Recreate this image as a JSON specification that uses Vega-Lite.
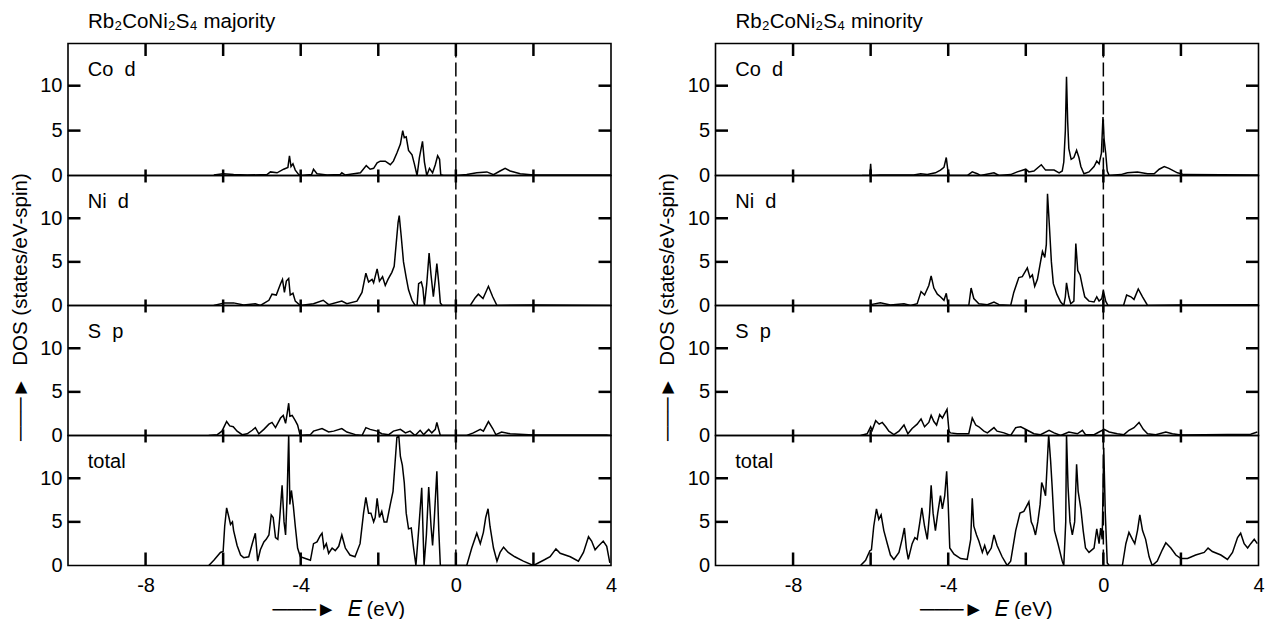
{
  "$schema": "https://vega.github.io/schema/vega-lite/v6.json",
  "padding": {"left": 9, "top": 10.5, "right": 5, "bottom": 2},
  "config": {
    "font": "Liberation Sans",
    "view": {"stroke": "black", "strokeWidth": 1.6},
    "axis": {"domain": false, "grid": false, "ticks": false, "tickSize": 0, "labelFont": "Liberation Sans", "labelFontSize": 20, "labelColor": "black", "titleFont": "Liberation Sans", "titleFontSize": 20.5, "titleFontWeight": "normal", "titleColor": "black"},
    "title": {"font": "Liberation Sans", "fontSize": 20.5, "fontWeight": "normal", "color": "black", "anchor": "start", "frame": "group", "baseline": "alphabetic", "offset": 9.5, "dx": 20}
  },
  "datasets": {
    "xt": [{"E": -8}, {"E": -6}, {"E": -4}, {"E": -2}, {"E": 0}, {"E": 2}],
    "yt": [{"DOS": 5}, {"DOS": 10}],
    "zero": [{"E": 0}],
    "majCo": [{"E":-6.24,"DOS":0.05},{"E":-6.0,"DOS":0.2},{"E":-5.73,"DOS":0.1},{"E":-5.38,"DOS":0.05},{"E":-4.87,"DOS":0.1},{"E":-4.78,"DOS":0.4},{"E":-4.61,"DOS":0.3},{"E":-4.44,"DOS":0.7},{"E":-4.33,"DOS":0.9},{"E":-4.29,"DOS":2.2},{"E":-4.25,"DOS":1.0},{"E":-4.2,"DOS":1.3},{"E":-4.14,"DOS":0.6},{"E":-4.05,"DOS":0.1},{"E":-3.97,"DOS":0.0},{"E":-3.72,"DOS":0.1},{"E":-3.67,"DOS":0.7},{"E":-3.58,"DOS":0.2},{"E":-3.32,"DOS":0.05},{"E":-2.98,"DOS":0.1},{"E":-2.94,"DOS":0.3},{"E":-2.85,"DOS":0.05},{"E":-2.46,"DOS":0.3},{"E":-2.31,"DOS":1.1},{"E":-2.21,"DOS":0.7},{"E":-2.12,"DOS":0.8},{"E":-2.03,"DOS":1.4},{"E":-1.95,"DOS":1.6},{"E":-1.82,"DOS":1.6},{"E":-1.69,"DOS":1.2},{"E":-1.61,"DOS":1.6},{"E":-1.52,"DOS":2.5},{"E":-1.43,"DOS":3.5},{"E":-1.37,"DOS":5.0},{"E":-1.33,"DOS":4.2},{"E":-1.28,"DOS":4.3},{"E":-1.22,"DOS":2.8},{"E":-1.13,"DOS":2.3},{"E":-1.07,"DOS":1.3},{"E":-1.0,"DOS":0.0},{"E":-0.94,"DOS":2.0},{"E":-0.86,"DOS":3.8},{"E":-0.81,"DOS":1.5},{"E":-0.75,"DOS":0.0},{"E":-0.68,"DOS":0.8},{"E":-0.6,"DOS":0.3},{"E":-0.53,"DOS":1.2},{"E":-0.47,"DOS":2.2},{"E":-0.42,"DOS":1.8},{"E":-0.39,"DOS":0.1},{"E":-0.32,"DOS":0.0},{"E":0.03,"DOS":0.0},{"E":0.28,"DOS":0.1},{"E":0.54,"DOS":0.3},{"E":0.8,"DOS":0.4},{"E":0.97,"DOS":0.1},{"E":1.14,"DOS":0.5},{"E":1.27,"DOS":0.8},{"E":1.4,"DOS":0.5},{"E":1.66,"DOS":0.2},{"E":2.0,"DOS":0.05},{"E":4.0,"DOS":0.05}],
    "majNi": [{"E":-6.24,"DOS":0.0},{"E":-5.97,"DOS":0.3},{"E":-5.73,"DOS":0.3},{"E":-5.47,"DOS":0.05},{"E":-5.17,"DOS":0.2},{"E":-5.04,"DOS":0.0},{"E":-4.82,"DOS":0.6},{"E":-4.74,"DOS":1.3},{"E":-4.63,"DOS":1.2},{"E":-4.52,"DOS":2.5},{"E":-4.47,"DOS":3.0},{"E":-4.42,"DOS":1.5},{"E":-4.37,"DOS":2.8},{"E":-4.31,"DOS":3.1},{"E":-4.27,"DOS":1.2},{"E":-4.2,"DOS":1.4},{"E":-4.14,"DOS":0.5},{"E":-4.01,"DOS":0.0},{"E":-3.67,"DOS":0.2},{"E":-3.42,"DOS":0.6},{"E":-3.28,"DOS":0.1},{"E":-2.94,"DOS":0.5},{"E":-2.81,"DOS":0.2},{"E":-2.55,"DOS":0.5},{"E":-2.42,"DOS":1.5},{"E":-2.32,"DOS":3.7},{"E":-2.25,"DOS":2.7},{"E":-2.16,"DOS":3.0},{"E":-2.12,"DOS":2.6},{"E":-2.03,"DOS":4.2},{"E":-1.97,"DOS":2.8},{"E":-1.89,"DOS":3.3},{"E":-1.82,"DOS":2.3},{"E":-1.75,"DOS":3.0},{"E":-1.65,"DOS":3.8},{"E":-1.59,"DOS":4.5},{"E":-1.54,"DOS":7.0},{"E":-1.49,"DOS":9.5},{"E":-1.46,"DOS":10.3},{"E":-1.41,"DOS":8.0},{"E":-1.35,"DOS":5.0},{"E":-1.28,"DOS":3.2},{"E":-1.22,"DOS":1.8},{"E":-1.13,"DOS":0.6},{"E":-1.05,"DOS":0.0},{"E":-1.0,"DOS":0.0},{"E":-0.96,"DOS":2.5},{"E":-0.89,"DOS":2.7},{"E":-0.85,"DOS":2.0},{"E":-0.81,"DOS":0.0},{"E":-0.75,"DOS":2.5},{"E":-0.69,"DOS":6.0},{"E":-0.64,"DOS":3.5},{"E":-0.58,"DOS":1.0},{"E":-0.53,"DOS":3.0},{"E":-0.49,"DOS":4.8},{"E":-0.44,"DOS":2.5},{"E":-0.4,"DOS":0.3},{"E":-0.35,"DOS":0.0},{"E":0.37,"DOS":0.0},{"E":0.5,"DOS":0.9},{"E":0.58,"DOS":1.3},{"E":0.7,"DOS":0.8},{"E":0.84,"DOS":2.2},{"E":0.95,"DOS":1.0},{"E":1.06,"DOS":0.0},{"E":2.0,"DOS":0.05},{"E":3.97,"DOS":0.0}],
    "majS": [{"E":-6.37,"DOS":0.0},{"E":-6.15,"DOS":0.1},{"E":-6.03,"DOS":0.5},{"E":-5.91,"DOS":1.6},{"E":-5.83,"DOS":1.1},{"E":-5.74,"DOS":1.0},{"E":-5.64,"DOS":0.5},{"E":-5.51,"DOS":0.1},{"E":-5.38,"DOS":0.2},{"E":-5.25,"DOS":0.6},{"E":-5.17,"DOS":0.9},{"E":-5.08,"DOS":0.2},{"E":-4.95,"DOS":0.7},{"E":-4.82,"DOS":1.3},{"E":-4.74,"DOS":1.5},{"E":-4.65,"DOS":0.9},{"E":-4.52,"DOS":2.0},{"E":-4.45,"DOS":2.3},{"E":-4.39,"DOS":1.4},{"E":-4.35,"DOS":2.5},{"E":-4.31,"DOS":3.7},{"E":-4.28,"DOS":2.2},{"E":-4.22,"DOS":2.3},{"E":-4.14,"DOS":1.7},{"E":-4.08,"DOS":1.2},{"E":-4.03,"DOS":0.3},{"E":-4.01,"DOS":0.0},{"E":-3.75,"DOS":0.1},{"E":-3.67,"DOS":0.5},{"E":-3.45,"DOS":0.8},{"E":-3.28,"DOS":0.4},{"E":-3.15,"DOS":0.5},{"E":-2.94,"DOS":0.8},{"E":-2.81,"DOS":0.4},{"E":-2.59,"DOS":0.1},{"E":-2.42,"DOS":0.0},{"E":-2.32,"DOS":0.9},{"E":-2.21,"DOS":0.7},{"E":-2.03,"DOS":0.5},{"E":-1.91,"DOS":0.2},{"E":-1.73,"DOS":0.1},{"E":-1.61,"DOS":0.5},{"E":-1.43,"DOS":0.7},{"E":-1.3,"DOS":0.3},{"E":-1.18,"DOS":0.5},{"E":-1.05,"DOS":0.0},{"E":-0.92,"DOS":0.6},{"E":-0.83,"DOS":0.1},{"E":-0.7,"DOS":0.7},{"E":-0.62,"DOS":0.3},{"E":-0.53,"DOS":0.7},{"E":-0.49,"DOS":1.5},{"E":-0.45,"DOS":0.8},{"E":-0.4,"DOS":0.0},{"E":0.28,"DOS":0.0},{"E":0.45,"DOS":0.3},{"E":0.63,"DOS":0.7},{"E":0.71,"DOS":0.5},{"E":0.84,"DOS":1.6},{"E":0.95,"DOS":0.8},{"E":1.03,"DOS":0.1},{"E":1.18,"DOS":0.4},{"E":1.4,"DOS":0.2},{"E":2.0,"DOS":0.05},{"E":3.89,"DOS":0.05},{"E":4.0,"DOS":0.0}],
    "majTot": [{"E":-6.37,"DOS":0.0},{"E":-6.24,"DOS":0.6},{"E":-6.07,"DOS":1.5},{"E":-6.0,"DOS":1.6},{"E":-5.96,"DOS":4.5},{"E":-5.91,"DOS":6.6},{"E":-5.85,"DOS":5.5},{"E":-5.81,"DOS":4.7},{"E":-5.76,"DOS":5.0},{"E":-5.73,"DOS":4.0},{"E":-5.64,"DOS":2.3},{"E":-5.55,"DOS":1.2},{"E":-5.47,"DOS":0.9},{"E":-5.34,"DOS":1.0},{"E":-5.25,"DOS":2.5},{"E":-5.17,"DOS":3.7},{"E":-5.11,"DOS":0.5},{"E":-5.04,"DOS":1.8},{"E":-4.95,"DOS":2.7},{"E":-4.89,"DOS":3.0},{"E":-4.82,"DOS":3.5},{"E":-4.76,"DOS":5.8},{"E":-4.71,"DOS":5.5},{"E":-4.65,"DOS":3.2},{"E":-4.59,"DOS":3.0},{"E":-4.54,"DOS":5.5},{"E":-4.48,"DOS":9.2},{"E":-4.43,"DOS":5.0},{"E":-4.39,"DOS":3.5},{"E":-4.35,"DOS":8.0},{"E":-4.31,"DOS":15.0},{"E":-4.28,"DOS":7.0},{"E":-4.24,"DOS":8.6},{"E":-4.19,"DOS":6.8},{"E":-4.14,"DOS":4.5},{"E":-4.08,"DOS":2.0},{"E":-4.01,"DOS":1.0},{"E":-3.88,"DOS":0.8},{"E":-3.75,"DOS":0.6},{"E":-3.67,"DOS":2.5},{"E":-3.58,"DOS":2.7},{"E":-3.5,"DOS":3.4},{"E":-3.45,"DOS":3.7},{"E":-3.4,"DOS":2.0},{"E":-3.34,"DOS":2.5},{"E":-3.28,"DOS":1.4},{"E":-3.19,"DOS":2.0},{"E":-3.11,"DOS":1.7},{"E":-3.02,"DOS":2.2},{"E":-2.94,"DOS":3.5},{"E":-2.85,"DOS":2.0},{"E":-2.73,"DOS":1.2},{"E":-2.6,"DOS":1.0},{"E":-2.47,"DOS":2.5},{"E":-2.38,"DOS":6.0},{"E":-2.32,"DOS":7.8},{"E":-2.25,"DOS":6.0},{"E":-2.19,"DOS":6.0},{"E":-2.12,"DOS":5.0},{"E":-2.08,"DOS":5.5},{"E":-2.03,"DOS":7.7},{"E":-1.97,"DOS":5.5},{"E":-1.91,"DOS":6.2},{"E":-1.85,"DOS":5.0},{"E":-1.78,"DOS":5.0},{"E":-1.69,"DOS":7.0},{"E":-1.62,"DOS":8.5},{"E":-1.58,"DOS":11.0},{"E":-1.52,"DOS":14.7},{"E":-1.47,"DOS":14.8},{"E":-1.43,"DOS":12.5},{"E":-1.38,"DOS":11.5},{"E":-1.33,"DOS":9.5},{"E":-1.28,"DOS":6.0},{"E":-1.22,"DOS":4.2},{"E":-1.15,"DOS":4.3},{"E":-1.09,"DOS":2.0},{"E":-1.03,"DOS":0.0},{"E":-0.96,"DOS":4.0},{"E":-0.88,"DOS":8.9},{"E":-0.82,"DOS":0.0},{"E":-0.76,"DOS":3.5},{"E":-0.7,"DOS":9.0},{"E":-0.64,"DOS":4.5},{"E":-0.6,"DOS":2.3},{"E":-0.56,"DOS":5.0},{"E":-0.49,"DOS":10.8},{"E":-0.44,"DOS":4.0},{"E":-0.4,"DOS":0.0},{"E":0.28,"DOS":0.0},{"E":0.41,"DOS":2.0},{"E":0.54,"DOS":3.7},{"E":0.63,"DOS":2.5},{"E":0.71,"DOS":3.8},{"E":0.77,"DOS":5.5},{"E":0.83,"DOS":6.5},{"E":0.88,"DOS":4.5},{"E":0.97,"DOS":2.0},{"E":1.06,"DOS":0.5},{"E":1.14,"DOS":1.5},{"E":1.23,"DOS":2.1},{"E":1.35,"DOS":1.5},{"E":1.52,"DOS":1.0},{"E":1.74,"DOS":0.5},{"E":2.0,"DOS":0.0},{"E":2.26,"DOS":0.6},{"E":2.43,"DOS":1.0},{"E":2.58,"DOS":1.9},{"E":2.69,"DOS":1.4},{"E":2.95,"DOS":1.0},{"E":3.16,"DOS":0.5},{"E":3.29,"DOS":1.5},{"E":3.42,"DOS":3.3},{"E":3.5,"DOS":2.8},{"E":3.59,"DOS":1.8},{"E":3.67,"DOS":2.2},{"E":3.8,"DOS":2.8},{"E":3.89,"DOS":2.2},{"E":3.97,"DOS":0.3}],
    "minCo": [{"E":-6.22,"DOS":0.0},{"E":-6.02,"DOS":0.0},{"E":-6.0,"DOS":1.3},{"E":-5.98,"DOS":0.0},{"E":-5.75,"DOS":0.05},{"E":-4.89,"DOS":0.05},{"E":-4.71,"DOS":0.2},{"E":-4.54,"DOS":0.1},{"E":-4.33,"DOS":0.3},{"E":-4.2,"DOS":0.6},{"E":-4.11,"DOS":0.9},{"E":-4.05,"DOS":2.0},{"E":-4.01,"DOS":0.6},{"E":-3.97,"DOS":0.0},{"E":-3.51,"DOS":0.0},{"E":-3.38,"DOS":0.4},{"E":-3.25,"DOS":0.2},{"E":-3.17,"DOS":0.0},{"E":-2.82,"DOS":0.3},{"E":-2.69,"DOS":0.0},{"E":-2.39,"DOS":0.1},{"E":-2.22,"DOS":0.4},{"E":-2.0,"DOS":0.7},{"E":-1.92,"DOS":0.4},{"E":-1.79,"DOS":0.5},{"E":-1.6,"DOS":1.2},{"E":-1.49,"DOS":0.6},{"E":-1.27,"DOS":0.6},{"E":-1.14,"DOS":0.3},{"E":-1.06,"DOS":0.5},{"E":-1.02,"DOS":1.5},{"E":-0.98,"DOS":5.0},{"E":-0.95,"DOS":11.0},{"E":-0.92,"DOS":6.0},{"E":-0.89,"DOS":3.0},{"E":-0.83,"DOS":1.8},{"E":-0.76,"DOS":2.0},{"E":-0.69,"DOS":2.8},{"E":-0.63,"DOS":2.0},{"E":-0.58,"DOS":1.0},{"E":-0.5,"DOS":0.2},{"E":-0.37,"DOS":0.4},{"E":-0.24,"DOS":1.0},{"E":-0.17,"DOS":1.6},{"E":-0.11,"DOS":1.3},{"E":-0.05,"DOS":2.5},{"E":-0.01,"DOS":6.5},{"E":0.02,"DOS":4.0},{"E":0.06,"DOS":2.5},{"E":0.1,"DOS":0.5},{"E":0.15,"DOS":0.0},{"E":0.45,"DOS":0.1},{"E":0.62,"DOS":0.3},{"E":0.88,"DOS":0.4},{"E":1.14,"DOS":0.2},{"E":1.31,"DOS":0.2},{"E":1.44,"DOS":0.7},{"E":1.57,"DOS":1.0},{"E":1.69,"DOS":0.8},{"E":1.91,"DOS":0.3},{"E":2.08,"DOS":0.1},{"E":4.0,"DOS":0.05}],
    "minNi": [{"E":-6.0,"DOS":0.1},{"E":-5.75,"DOS":0.3},{"E":-5.49,"DOS":0.05},{"E":-5.14,"DOS":0.2},{"E":-4.97,"DOS":0.0},{"E":-4.8,"DOS":0.2},{"E":-4.7,"DOS":1.6},{"E":-4.61,"DOS":1.2},{"E":-4.5,"DOS":2.3},{"E":-4.44,"DOS":3.4},{"E":-4.37,"DOS":2.0},{"E":-4.28,"DOS":1.3},{"E":-4.2,"DOS":1.0},{"E":-4.11,"DOS":0.6},{"E":-4.05,"DOS":1.4},{"E":-4.0,"DOS":0.0},{"E":-3.47,"DOS":0.0},{"E":-3.41,"DOS":2.0},{"E":-3.34,"DOS":0.8},{"E":-3.21,"DOS":0.2},{"E":-2.99,"DOS":0.1},{"E":-2.82,"DOS":0.4},{"E":-2.69,"DOS":0.1},{"E":-2.39,"DOS":0.0},{"E":-2.31,"DOS":1.5},{"E":-2.18,"DOS":3.2},{"E":-2.09,"DOS":3.3},{"E":-1.96,"DOS":4.3},{"E":-1.89,"DOS":3.2},{"E":-1.83,"DOS":3.5},{"E":-1.77,"DOS":2.2},{"E":-1.7,"DOS":3.0},{"E":-1.62,"DOS":5.0},{"E":-1.57,"DOS":6.2},{"E":-1.51,"DOS":5.5},{"E":-1.47,"DOS":7.0},{"E":-1.44,"DOS":12.8},{"E":-1.39,"DOS":9.0},{"E":-1.34,"DOS":5.0},{"E":-1.29,"DOS":2.5},{"E":-1.2,"DOS":1.3},{"E":-1.1,"DOS":0.4},{"E":-1.02,"DOS":0.0},{"E":-0.98,"DOS":1.0},{"E":-0.95,"DOS":2.6},{"E":-0.89,"DOS":1.0},{"E":-0.84,"DOS":0.2},{"E":-0.76,"DOS":0.5},{"E":-0.71,"DOS":7.1},{"E":-0.66,"DOS":4.0},{"E":-0.6,"DOS":3.5},{"E":-0.54,"DOS":2.2},{"E":-0.48,"DOS":1.0},{"E":-0.37,"DOS":0.5},{"E":-0.24,"DOS":0.4},{"E":-0.17,"DOS":1.0},{"E":-0.11,"DOS":0.5},{"E":-0.04,"DOS":0.8},{"E":0.0,"DOS":1.7},{"E":0.06,"DOS":0.5},{"E":0.12,"DOS":0.0},{"E":0.52,"DOS":0.0},{"E":0.6,"DOS":1.2},{"E":0.71,"DOS":1.0},{"E":0.79,"DOS":0.7},{"E":0.9,"DOS":1.9},{"E":1.01,"DOS":1.0},{"E":1.14,"DOS":0.0},{"E":2.0,"DOS":0.05},{"E":4.0,"DOS":0.1}],
    "minS": [{"E":-6.26,"DOS":0.0},{"E":-6.09,"DOS":0.2},{"E":-6.0,"DOS":1.0},{"E":-5.96,"DOS":0.6},{"E":-5.87,"DOS":1.7},{"E":-5.78,"DOS":1.3},{"E":-5.7,"DOS":1.5},{"E":-5.61,"DOS":1.0},{"E":-5.53,"DOS":0.5},{"E":-5.4,"DOS":0.1},{"E":-5.27,"DOS":0.5},{"E":-5.14,"DOS":1.2},{"E":-5.04,"DOS":0.2},{"E":-4.93,"DOS":0.8},{"E":-4.8,"DOS":1.3},{"E":-4.7,"DOS":1.9},{"E":-4.61,"DOS":1.0},{"E":-4.5,"DOS":1.5},{"E":-4.44,"DOS":2.3},{"E":-4.37,"DOS":1.6},{"E":-4.3,"DOS":1.2},{"E":-4.22,"DOS":2.4},{"E":-4.15,"DOS":2.0},{"E":-4.09,"DOS":2.5},{"E":-4.03,"DOS":3.0},{"E":-3.98,"DOS":0.5},{"E":-3.94,"DOS":0.3},{"E":-3.77,"DOS":0.2},{"E":-3.47,"DOS":0.2},{"E":-3.38,"DOS":2.0},{"E":-3.29,"DOS":1.2},{"E":-3.21,"DOS":1.0},{"E":-3.08,"DOS":0.5},{"E":-2.99,"DOS":0.3},{"E":-2.82,"DOS":0.9},{"E":-2.74,"DOS":0.5},{"E":-2.56,"DOS":0.3},{"E":-2.39,"DOS":0.0},{"E":-2.26,"DOS":0.9},{"E":-2.13,"DOS":1.0},{"E":-1.96,"DOS":0.6},{"E":-1.79,"DOS":0.2},{"E":-1.62,"DOS":0.1},{"E":-1.4,"DOS":0.6},{"E":-1.27,"DOS":0.3},{"E":-1.1,"DOS":0.0},{"E":-0.89,"DOS":0.4},{"E":-0.67,"DOS":0.2},{"E":-0.54,"DOS":0.6},{"E":-0.46,"DOS":0.1},{"E":-0.24,"DOS":0.1},{"E":-0.11,"DOS":0.4},{"E":0.02,"DOS":0.7},{"E":0.15,"DOS":0.4},{"E":0.36,"DOS":0.2},{"E":0.53,"DOS":0.1},{"E":0.66,"DOS":0.6},{"E":0.79,"DOS":0.9},{"E":0.92,"DOS":1.5},{"E":1.03,"DOS":0.7},{"E":1.14,"DOS":0.2},{"E":1.35,"DOS":0.1},{"E":1.61,"DOS":0.4},{"E":1.78,"DOS":0.2},{"E":2.0,"DOS":0.05},{"E":3.8,"DOS":0.15},{"E":3.97,"DOS":0.4}],
    "minTot": [{"E":-6.26,"DOS":0.0},{"E":-6.13,"DOS":0.6},{"E":-6.02,"DOS":1.7},{"E":-5.98,"DOS":1.8},{"E":-5.92,"DOS":4.5},{"E":-5.85,"DOS":6.5},{"E":-5.79,"DOS":5.3},{"E":-5.73,"DOS":5.8},{"E":-5.66,"DOS":4.0},{"E":-5.57,"DOS":2.5},{"E":-5.49,"DOS":1.2},{"E":-5.4,"DOS":0.7},{"E":-5.27,"DOS":1.5},{"E":-5.19,"DOS":3.0},{"E":-5.13,"DOS":4.3},{"E":-5.08,"DOS":2.0},{"E":-5.03,"DOS":0.7},{"E":-4.93,"DOS":2.5},{"E":-4.86,"DOS":3.2},{"E":-4.8,"DOS":3.0},{"E":-4.73,"DOS":5.0},{"E":-4.68,"DOS":6.6},{"E":-4.61,"DOS":4.5},{"E":-4.54,"DOS":3.0},{"E":-4.48,"DOS":6.0},{"E":-4.44,"DOS":9.2},{"E":-4.39,"DOS":6.0},{"E":-4.33,"DOS":4.0},{"E":-4.27,"DOS":6.0},{"E":-4.2,"DOS":8.0},{"E":-4.15,"DOS":6.5},{"E":-4.09,"DOS":8.0},{"E":-4.04,"DOS":10.8},{"E":-4.0,"DOS":7.0},{"E":-3.96,"DOS":2.0},{"E":-3.85,"DOS":1.3},{"E":-3.68,"DOS":0.8},{"E":-3.51,"DOS":0.7},{"E":-3.42,"DOS":3.0},{"E":-3.38,"DOS":7.7},{"E":-3.34,"DOS":4.5},{"E":-3.27,"DOS":3.5},{"E":-3.21,"DOS":2.8},{"E":-3.12,"DOS":1.5},{"E":-3.06,"DOS":2.3},{"E":-2.99,"DOS":1.3},{"E":-2.89,"DOS":2.0},{"E":-2.82,"DOS":3.5},{"E":-2.74,"DOS":2.3},{"E":-2.61,"DOS":1.0},{"E":-2.48,"DOS":0.0},{"E":-2.39,"DOS":0.5},{"E":-2.26,"DOS":4.0},{"E":-2.15,"DOS":6.0},{"E":-2.05,"DOS":6.2},{"E":-1.92,"DOS":7.3},{"E":-1.86,"DOS":5.0},{"E":-1.81,"DOS":4.5},{"E":-1.75,"DOS":3.5},{"E":-1.69,"DOS":5.0},{"E":-1.63,"DOS":7.0},{"E":-1.59,"DOS":9.5},{"E":-1.55,"DOS":9.0},{"E":-1.49,"DOS":8.0},{"E":-1.45,"DOS":11.5},{"E":-1.41,"DOS":15.0},{"E":-1.36,"DOS":12.0},{"E":-1.32,"DOS":9.0},{"E":-1.26,"DOS":4.0},{"E":-1.17,"DOS":2.5},{"E":-1.06,"DOS":0.5},{"E":-1.02,"DOS":0.0},{"E":-0.97,"DOS":5.0},{"E":-0.95,"DOS":15.0},{"E":-0.91,"DOS":9.0},{"E":-0.86,"DOS":5.0},{"E":-0.8,"DOS":3.5},{"E":-0.74,"DOS":5.0},{"E":-0.69,"DOS":11.6},{"E":-0.65,"DOS":8.5},{"E":-0.58,"DOS":6.5},{"E":-0.52,"DOS":4.0},{"E":-0.46,"DOS":2.0},{"E":-0.37,"DOS":1.5},{"E":-0.24,"DOS":2.0},{"E":-0.17,"DOS":4.2},{"E":-0.11,"DOS":2.5},{"E":-0.07,"DOS":4.3},{"E":-0.03,"DOS":3.0},{"E":0.01,"DOS":13.5},{"E":0.05,"DOS":6.0},{"E":0.1,"DOS":0.3},{"E":0.15,"DOS":0.0},{"E":0.49,"DOS":0.0},{"E":0.58,"DOS":2.5},{"E":0.66,"DOS":3.8},{"E":0.75,"DOS":3.0},{"E":0.81,"DOS":2.5},{"E":0.88,"DOS":4.0},{"E":0.94,"DOS":5.8},{"E":1.01,"DOS":4.0},{"E":1.09,"DOS":3.0},{"E":1.18,"DOS":1.0},{"E":1.26,"DOS":0.0},{"E":1.39,"DOS":0.5},{"E":1.52,"DOS":1.8},{"E":1.61,"DOS":2.6},{"E":1.74,"DOS":2.0},{"E":1.87,"DOS":1.2},{"E":2.0,"DOS":0.8},{"E":2.17,"DOS":0.8},{"E":2.38,"DOS":1.2},{"E":2.6,"DOS":1.5},{"E":2.7,"DOS":2.0},{"E":2.81,"DOS":1.6},{"E":3.03,"DOS":1.2},{"E":3.2,"DOS":0.7},{"E":3.33,"DOS":1.5},{"E":3.46,"DOS":3.2},{"E":3.54,"DOS":3.7},{"E":3.63,"DOS":2.5},{"E":3.72,"DOS":2.0},{"E":3.8,"DOS":2.5},{"E":3.89,"DOS":3.0},{"E":3.97,"DOS":2.5}]
  },
  "spacing": 38.5,
  "hconcat": [
    {
      "spacing": 0,
      "bounds": "flush",
      "vconcat": [
        {
          "width": 543, "height": 132,
          "title": {"text": "Rb₂CoNi₂S₄ majority"},
          "layer": [
            {"data": {"name": "majCo"}, "mark": {"type": "line", "color": "black", "strokeWidth": 1.5, "clip": true},
             "encoding": {
               "x": {"field": "E", "type": "quantitative", "scale": {"domain": [-10, 4], "nice": false, "zero": false}, "axis": null},
               "y": {"field": "DOS", "type": "quantitative", "scale": {"domain": [0, 14.7], "nice": false}, "axis": {"orient": "left", "values": [0, 5, 10], "labelPadding": 6, "title": null}}}},
            {"data": {"values": [{"E": -9.49, "DOS": 11.1, "label": "Co\u00a0\u00a0d"}]}, "mark": {"type": "text", "align": "left", "baseline": "alphabetic", "fontSize": 20, "font": "Liberation Sans", "color": "black"},
             "encoding": {"x": {"field": "E", "type": "quantitative", "axis": null}, "y": {"field": "DOS", "type": "quantitative", "axis": null}, "text": {"field": "label"}}},
            {"data": {"name": "zero"}, "mark": {"type": "rule", "color": "black", "strokeWidth": 1.5, "strokeDash": [14, 5]},
             "encoding": {"x": {"field": "E", "type": "quantitative", "axis": null}}},
            {"data": {"name": "xt"}, "mark": {"type": "rule", "color": "black", "strokeWidth": 2.5},
             "encoding": {"x": {"field": "E", "type": "quantitative", "axis": null}, "y": {"datum": 14.7, "axis": null}, "y2": {"datum": 13.31}}},
            {"data": {"name": "xt"}, "mark": {"type": "rule", "color": "black", "strokeWidth": 2.5},
             "encoding": {"x": {"field": "E", "type": "quantitative", "axis": null}, "y": {"datum": 0, "axis": null}, "y2": {"datum": 0.67}}},
            {"data": {"name": "yt"}, "mark": {"type": "rule", "color": "black", "strokeWidth": 2.5},
             "encoding": {"y": {"field": "DOS", "type": "quantitative", "axis": null}, "x": {"datum": -10, "axis": null}, "x2": {"datum": -9.678}}},
            {"data": {"name": "yt"}, "mark": {"type": "rule", "color": "black", "strokeWidth": 2.5},
             "encoding": {"y": {"field": "DOS", "type": "quantitative", "axis": null}, "x": {"datum": 4, "axis": null}, "x2": {"datum": 3.678}}}
          ],
          "resolve": {"axis": {"x": "independent", "y": "independent"}}
        },
        {
          "width": 543, "height": 130,
          "layer": [
            {"data": {"name": "majNi"}, "mark": {"type": "line", "color": "black", "strokeWidth": 1.5, "clip": true},
             "encoding": {
               "x": {"field": "E", "type": "quantitative", "scale": {"domain": [-10, 4], "nice": false, "zero": false}, "axis": null},
               "y": {"field": "DOS", "type": "quantitative", "scale": {"domain": [0, 14.9], "nice": false}, "axis": {"orient": "left", "values": [0, 5, 10], "labelPadding": 6, "title": null}}}},
            {"data": {"values": [{"E": -9.49, "DOS": 11.2, "label": "Ni\u00a0\u00a0d"}]}, "mark": {"type": "text", "align": "left", "baseline": "alphabetic", "fontSize": 20, "font": "Liberation Sans", "color": "black"},
             "encoding": {"x": {"field": "E", "type": "quantitative", "axis": null}, "y": {"field": "DOS", "type": "quantitative", "axis": null}, "text": {"field": "label"}}},
            {"data": {"name": "zero"}, "mark": {"type": "rule", "color": "black", "strokeWidth": 1.5, "strokeDash": [14, 5]},
             "encoding": {"x": {"field": "E", "type": "quantitative", "axis": null}}},
            {"data": {"name": "xt"}, "mark": {"type": "rule", "color": "black", "strokeWidth": 2.5},
             "encoding": {"x": {"field": "E", "type": "quantitative", "axis": null}, "y": {"datum": 14.9, "axis": null}, "y2": {"datum": 14.1}}},
            {"data": {"name": "xt"}, "mark": {"type": "rule", "color": "black", "strokeWidth": 2.5},
             "encoding": {"x": {"field": "E", "type": "quantitative", "axis": null}, "y": {"datum": 0, "axis": null}, "y2": {"datum": 0.69}}},
            {"data": {"name": "yt"}, "mark": {"type": "rule", "color": "black", "strokeWidth": 2.5},
             "encoding": {"y": {"field": "DOS", "type": "quantitative", "axis": null}, "x": {"datum": -10, "axis": null}, "x2": {"datum": -9.678}}},
            {"data": {"name": "yt"}, "mark": {"type": "rule", "color": "black", "strokeWidth": 2.5},
             "encoding": {"y": {"field": "DOS", "type": "quantitative", "axis": null}, "x": {"datum": 4, "axis": null}, "x2": {"datum": 3.678}}}
          ],
          "resolve": {"axis": {"x": "independent", "y": "independent"}}
        },
        {
          "width": 543, "height": 130,
          "layer": [
            {"data": {"name": "majS"}, "mark": {"type": "line", "color": "black", "strokeWidth": 1.5, "clip": true},
             "encoding": {
               "x": {"field": "E", "type": "quantitative", "scale": {"domain": [-10, 4], "nice": false, "zero": false}, "axis": null},
               "y": {"field": "DOS", "type": "quantitative", "scale": {"domain": [0, 14.9], "nice": false}, "axis": {"orient": "left", "values": [0, 5, 10], "labelPadding": 6, "title": "───►\u00a0\u00a0DOS (states/eV-spin)", "titleAngle": 270, "titleAlign": "left", "titleBaseline": "middle", "titleX": -48, "titleY": 135}}}},
            {"data": {"values": [{"E": -9.49, "DOS": 11.2, "label": "S\u00a0\u00a0p"}]}, "mark": {"type": "text", "align": "left", "baseline": "alphabetic", "fontSize": 20, "font": "Liberation Sans", "color": "black"},
             "encoding": {"x": {"field": "E", "type": "quantitative", "axis": null}, "y": {"field": "DOS", "type": "quantitative", "axis": null}, "text": {"field": "label"}}},
            {"data": {"name": "zero"}, "mark": {"type": "rule", "color": "black", "strokeWidth": 1.5, "strokeDash": [14, 5]},
             "encoding": {"x": {"field": "E", "type": "quantitative", "axis": null}}},
            {"data": {"name": "xt"}, "mark": {"type": "rule", "color": "black", "strokeWidth": 2.5},
             "encoding": {"x": {"field": "E", "type": "quantitative", "axis": null}, "y": {"datum": 14.9, "axis": null}, "y2": {"datum": 14.1}}},
            {"data": {"name": "xt"}, "mark": {"type": "rule", "color": "black", "strokeWidth": 2.5},
             "encoding": {"x": {"field": "E", "type": "quantitative", "axis": null}, "y": {"datum": 0, "axis": null}, "y2": {"datum": 0.69}}},
            {"data": {"name": "yt"}, "mark": {"type": "rule", "color": "black", "strokeWidth": 2.5},
             "encoding": {"y": {"field": "DOS", "type": "quantitative", "axis": null}, "x": {"datum": -10, "axis": null}, "x2": {"datum": -9.678}}},
            {"data": {"name": "yt"}, "mark": {"type": "rule", "color": "black", "strokeWidth": 2.5},
             "encoding": {"y": {"field": "DOS", "type": "quantitative", "axis": null}, "x": {"datum": 4, "axis": null}, "x2": {"datum": 3.678}}}
          ],
          "resolve": {"axis": {"x": "independent", "y": "independent"}}
        },
        {
          "width": 543, "height": 130,
          "layer": [
            {"data": {"name": "majTot"}, "mark": {"type": "line", "color": "black", "strokeWidth": 1.5, "clip": true},
             "encoding": {
               "x": {"field": "E", "type": "quantitative", "scale": {"domain": [-10, 4], "nice": false, "zero": false}, "axis": {"orient": "bottom", "values": [-8, -4, 0, 4], "labelExpr": "datum.value < 0 ? '-' + abs(datum.value) : '' + datum.value", "labelPadding": 10, "labelFlush": false, "title": "───►\u00a0\u00a0𝐸 (eV)", "titleAlign": "left", "titleBaseline": "alphabetic", "titleX": 204, "titleY": 50}},
               "y": {"field": "DOS", "type": "quantitative", "scale": {"domain": [0, 14.9], "nice": false}, "axis": {"orient": "left", "values": [0, 5, 10], "labelPadding": 6, "title": null}}}},
            {"data": {"values": [{"E": -9.49, "DOS": 11.2, "label": "total"}]}, "mark": {"type": "text", "align": "left", "baseline": "alphabetic", "fontSize": 20, "font": "Liberation Sans", "color": "black"},
             "encoding": {"x": {"field": "E", "type": "quantitative", "axis": null}, "y": {"field": "DOS", "type": "quantitative", "axis": null}, "text": {"field": "label"}}},
            {"data": {"name": "zero"}, "mark": {"type": "rule", "color": "black", "strokeWidth": 1.5, "strokeDash": [14, 5]},
             "encoding": {"x": {"field": "E", "type": "quantitative", "axis": null}}},
            {"data": {"name": "xt"}, "mark": {"type": "rule", "color": "black", "strokeWidth": 2.5},
             "encoding": {"x": {"field": "E", "type": "quantitative", "axis": null}, "y": {"datum": 14.9, "axis": null}, "y2": {"datum": 14.1}}},
            {"data": {"name": "xt"}, "mark": {"type": "rule", "color": "black", "strokeWidth": 2.5},
             "encoding": {"x": {"field": "E", "type": "quantitative", "axis": null}, "y": {"datum": 0, "axis": null}, "y2": {"datum": 1.49}}},
            {"data": {"name": "yt"}, "mark": {"type": "rule", "color": "black", "strokeWidth": 2.5},
             "encoding": {"y": {"field": "DOS", "type": "quantitative", "axis": null}, "x": {"datum": -10, "axis": null}, "x2": {"datum": -9.678}}},
            {"data": {"name": "yt"}, "mark": {"type": "rule", "color": "black", "strokeWidth": 2.5},
             "encoding": {"y": {"field": "DOS", "type": "quantitative", "axis": null}, "x": {"datum": 4, "axis": null}, "x2": {"datum": 3.678}}}
          ],
          "resolve": {"axis": {"x": "independent", "y": "independent"}}
        }
      ]
    },
    {
      "spacing": 0,
      "bounds": "flush",
      "vconcat": [
        {
          "width": 543, "height": 132,
          "title": {"text": "Rb₂CoNi₂S₄ minority"},
          "layer": [
            {"data": {"name": "minCo"}, "mark": {"type": "line", "color": "black", "strokeWidth": 1.5, "clip": true},
             "encoding": {
               "x": {"field": "E", "type": "quantitative", "scale": {"domain": [-10, 4], "nice": false, "zero": false}, "axis": null},
               "y": {"field": "DOS", "type": "quantitative", "scale": {"domain": [0, 14.7], "nice": false}, "axis": {"orient": "left", "values": [0, 5, 10], "labelPadding": 6, "title": null}}}},
            {"data": {"values": [{"E": -9.49, "DOS": 11.1, "label": "Co\u00a0\u00a0d"}]}, "mark": {"type": "text", "align": "left", "baseline": "alphabetic", "fontSize": 20, "font": "Liberation Sans", "color": "black"},
             "encoding": {"x": {"field": "E", "type": "quantitative", "axis": null}, "y": {"field": "DOS", "type": "quantitative", "axis": null}, "text": {"field": "label"}}},
            {"data": {"name": "zero"}, "mark": {"type": "rule", "color": "black", "strokeWidth": 1.5, "strokeDash": [14, 5]},
             "encoding": {"x": {"field": "E", "type": "quantitative", "axis": null}}},
            {"data": {"name": "xt"}, "mark": {"type": "rule", "color": "black", "strokeWidth": 2.5},
             "encoding": {"x": {"field": "E", "type": "quantitative", "axis": null}, "y": {"datum": 14.7, "axis": null}, "y2": {"datum": 13.31}}},
            {"data": {"name": "xt"}, "mark": {"type": "rule", "color": "black", "strokeWidth": 2.5},
             "encoding": {"x": {"field": "E", "type": "quantitative", "axis": null}, "y": {"datum": 0, "axis": null}, "y2": {"datum": 0.67}}},
            {"data": {"name": "yt"}, "mark": {"type": "rule", "color": "black", "strokeWidth": 2.5},
             "encoding": {"y": {"field": "DOS", "type": "quantitative", "axis": null}, "x": {"datum": -10, "axis": null}, "x2": {"datum": -9.678}}},
            {"data": {"name": "yt"}, "mark": {"type": "rule", "color": "black", "strokeWidth": 2.5},
             "encoding": {"y": {"field": "DOS", "type": "quantitative", "axis": null}, "x": {"datum": 4, "axis": null}, "x2": {"datum": 3.678}}}
          ],
          "resolve": {"axis": {"x": "independent", "y": "independent"}}
        },
        {
          "width": 543, "height": 130,
          "layer": [
            {"data": {"name": "minNi"}, "mark": {"type": "line", "color": "black", "strokeWidth": 1.5, "clip": true},
             "encoding": {
               "x": {"field": "E", "type": "quantitative", "scale": {"domain": [-10, 4], "nice": false, "zero": false}, "axis": null},
               "y": {"field": "DOS", "type": "quantitative", "scale": {"domain": [0, 14.9], "nice": false}, "axis": {"orient": "left", "values": [0, 5, 10], "labelPadding": 6, "title": null}}}},
            {"data": {"values": [{"E": -9.49, "DOS": 11.2, "label": "Ni\u00a0\u00a0d"}]}, "mark": {"type": "text", "align": "left", "baseline": "alphabetic", "fontSize": 20, "font": "Liberation Sans", "color": "black"},
             "encoding": {"x": {"field": "E", "type": "quantitative", "axis": null}, "y": {"field": "DOS", "type": "quantitative", "axis": null}, "text": {"field": "label"}}},
            {"data": {"name": "zero"}, "mark": {"type": "rule", "color": "black", "strokeWidth": 1.5, "strokeDash": [14, 5]},
             "encoding": {"x": {"field": "E", "type": "quantitative", "axis": null}}},
            {"data": {"name": "xt"}, "mark": {"type": "rule", "color": "black", "strokeWidth": 2.5},
             "encoding": {"x": {"field": "E", "type": "quantitative", "axis": null}, "y": {"datum": 14.9, "axis": null}, "y2": {"datum": 14.1}}},
            {"data": {"name": "xt"}, "mark": {"type": "rule", "color": "black", "strokeWidth": 2.5},
             "encoding": {"x": {"field": "E", "type": "quantitative", "axis": null}, "y": {"datum": 0, "axis": null}, "y2": {"datum": 0.69}}},
            {"data": {"name": "yt"}, "mark": {"type": "rule", "color": "black", "strokeWidth": 2.5},
             "encoding": {"y": {"field": "DOS", "type": "quantitative", "axis": null}, "x": {"datum": -10, "axis": null}, "x2": {"datum": -9.678}}},
            {"data": {"name": "yt"}, "mark": {"type": "rule", "color": "black", "strokeWidth": 2.5},
             "encoding": {"y": {"field": "DOS", "type": "quantitative", "axis": null}, "x": {"datum": 4, "axis": null}, "x2": {"datum": 3.678}}}
          ],
          "resolve": {"axis": {"x": "independent", "y": "independent"}}
        },
        {
          "width": 543, "height": 130,
          "layer": [
            {"data": {"name": "minS"}, "mark": {"type": "line", "color": "black", "strokeWidth": 1.5, "clip": true},
             "encoding": {
               "x": {"field": "E", "type": "quantitative", "scale": {"domain": [-10, 4], "nice": false, "zero": false}, "axis": null},
               "y": {"field": "DOS", "type": "quantitative", "scale": {"domain": [0, 14.9], "nice": false}, "axis": {"orient": "left", "values": [0, 5, 10], "labelPadding": 6, "title": "───►\u00a0\u00a0DOS (states/eV-spin)", "titleAngle": 270, "titleAlign": "left", "titleBaseline": "middle", "titleX": -48, "titleY": 135}}}},
            {"data": {"values": [{"E": -9.49, "DOS": 11.2, "label": "S\u00a0\u00a0p"}]}, "mark": {"type": "text", "align": "left", "baseline": "alphabetic", "fontSize": 20, "font": "Liberation Sans", "color": "black"},
             "encoding": {"x": {"field": "E", "type": "quantitative", "axis": null}, "y": {"field": "DOS", "type": "quantitative", "axis": null}, "text": {"field": "label"}}},
            {"data": {"name": "zero"}, "mark": {"type": "rule", "color": "black", "strokeWidth": 1.5, "strokeDash": [14, 5]},
             "encoding": {"x": {"field": "E", "type": "quantitative", "axis": null}}},
            {"data": {"name": "xt"}, "mark": {"type": "rule", "color": "black", "strokeWidth": 2.5},
             "encoding": {"x": {"field": "E", "type": "quantitative", "axis": null}, "y": {"datum": 14.9, "axis": null}, "y2": {"datum": 14.1}}},
            {"data": {"name": "xt"}, "mark": {"type": "rule", "color": "black", "strokeWidth": 2.5},
             "encoding": {"x": {"field": "E", "type": "quantitative", "axis": null}, "y": {"datum": 0, "axis": null}, "y2": {"datum": 0.69}}},
            {"data": {"name": "yt"}, "mark": {"type": "rule", "color": "black", "strokeWidth": 2.5},
             "encoding": {"y": {"field": "DOS", "type": "quantitative", "axis": null}, "x": {"datum": -10, "axis": null}, "x2": {"datum": -9.678}}},
            {"data": {"name": "yt"}, "mark": {"type": "rule", "color": "black", "strokeWidth": 2.5},
             "encoding": {"y": {"field": "DOS", "type": "quantitative", "axis": null}, "x": {"datum": 4, "axis": null}, "x2": {"datum": 3.678}}}
          ],
          "resolve": {"axis": {"x": "independent", "y": "independent"}}
        },
        {
          "width": 543, "height": 130,
          "layer": [
            {"data": {"name": "minTot"}, "mark": {"type": "line", "color": "black", "strokeWidth": 1.5, "clip": true},
             "encoding": {
               "x": {"field": "E", "type": "quantitative", "scale": {"domain": [-10, 4], "nice": false, "zero": false}, "axis": {"orient": "bottom", "values": [-8, -4, 0, 4], "labelExpr": "datum.value < 0 ? '-' + abs(datum.value) : '' + datum.value", "labelPadding": 10, "labelFlush": false, "title": "───►\u00a0\u00a0𝐸 (eV)", "titleAlign": "left", "titleBaseline": "alphabetic", "titleX": 204, "titleY": 50}},
               "y": {"field": "DOS", "type": "quantitative", "scale": {"domain": [0, 14.9], "nice": false}, "axis": {"orient": "left", "values": [0, 5, 10], "labelPadding": 6, "title": null}}}},
            {"data": {"values": [{"E": -9.49, "DOS": 11.2, "label": "total"}]}, "mark": {"type": "text", "align": "left", "baseline": "alphabetic", "fontSize": 20, "font": "Liberation Sans", "color": "black"},
             "encoding": {"x": {"field": "E", "type": "quantitative", "axis": null}, "y": {"field": "DOS", "type": "quantitative", "axis": null}, "text": {"field": "label"}}},
            {"data": {"name": "zero"}, "mark": {"type": "rule", "color": "black", "strokeWidth": 1.5, "strokeDash": [14, 5]},
             "encoding": {"x": {"field": "E", "type": "quantitative", "axis": null}}},
            {"data": {"name": "xt"}, "mark": {"type": "rule", "color": "black", "strokeWidth": 2.5},
             "encoding": {"x": {"field": "E", "type": "quantitative", "axis": null}, "y": {"datum": 14.9, "axis": null}, "y2": {"datum": 14.1}}},
            {"data": {"name": "xt"}, "mark": {"type": "rule", "color": "black", "strokeWidth": 2.5},
             "encoding": {"x": {"field": "E", "type": "quantitative", "axis": null}, "y": {"datum": 0, "axis": null}, "y2": {"datum": 1.49}}},
            {"data": {"name": "yt"}, "mark": {"type": "rule", "color": "black", "strokeWidth": 2.5},
             "encoding": {"y": {"field": "DOS", "type": "quantitative", "axis": null}, "x": {"datum": -10, "axis": null}, "x2": {"datum": -9.678}}},
            {"data": {"name": "yt"}, "mark": {"type": "rule", "color": "black", "strokeWidth": 2.5},
             "encoding": {"y": {"field": "DOS", "type": "quantitative", "axis": null}, "x": {"datum": 4, "axis": null}, "x2": {"datum": 3.678}}}
          ],
          "resolve": {"axis": {"x": "independent", "y": "independent"}}
        }
      ]
    }
  ]
}
